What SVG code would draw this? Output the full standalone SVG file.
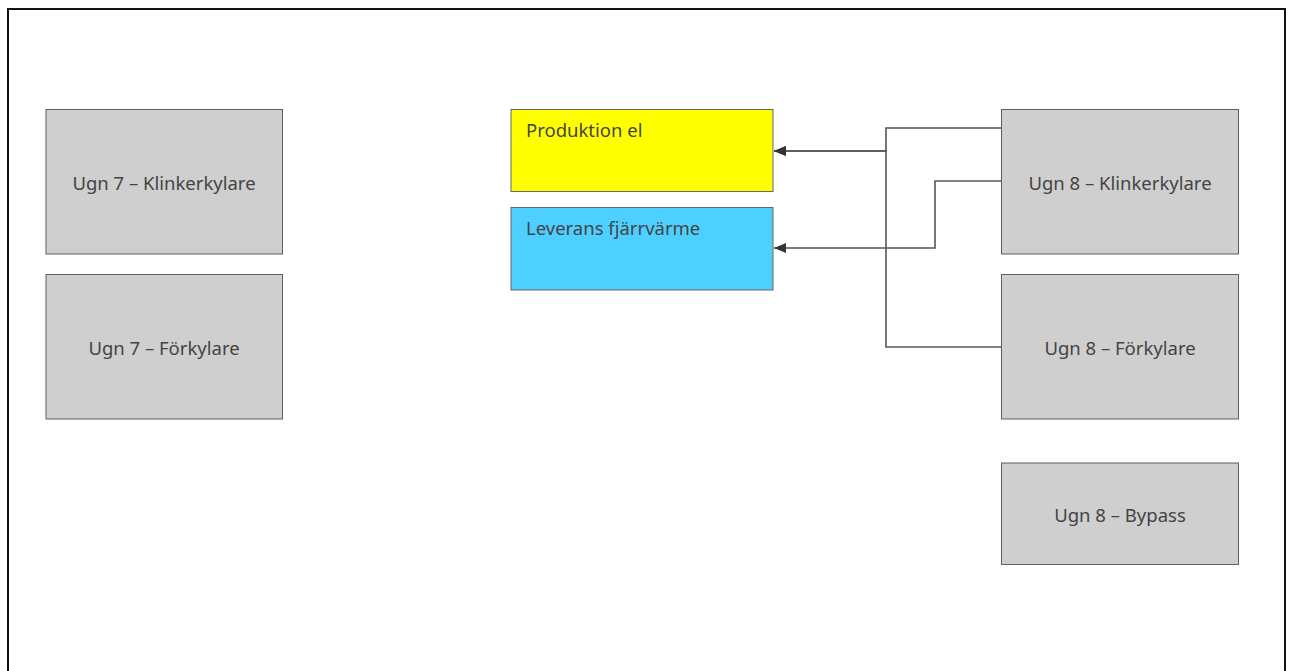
<svg xmlns="http://www.w3.org/2000/svg" width="1289" height="671" viewBox="0 0 1289 671">
<defs>
<style>
.box{fill:#cfcfcf;stroke:#5f5f5f;stroke-width:1}
.lbl{font-family:"Noto Sans","Open Sans",sans-serif;font-size:18.5px;fill:#444;font-variant-ligatures:none}
.ctr{text-anchor:middle}
.conn{fill:none;stroke:#555;stroke-width:1.6}
</style>
<marker id="arr" viewBox="0 0 12 10" refX="12" refY="5" markerWidth="12" markerHeight="10" markerUnits="userSpaceOnUse" orient="auto">
<path d="M0,0 L12,5 L0,10 Z" fill="#333"/>
</marker>
</defs>
<rect x="0" y="0" width="1289" height="671" fill="#fff"/>
<rect x="8" y="9" width="1277" height="680" fill="#fff" stroke="#111" stroke-width="2"/>
<g id="connectors">
<path class="conn" d="M1001,128 H886 V151 H774" marker-end="url(#arr)"/>
<path class="conn" d="M1001,347 H886 V151 H774" marker-end="url(#arr)"/>
<path class="conn" d="M1001,181 H935 V248 H774" marker-end="url(#arr)"/>
</g>
<g id="ugn7-klinker">
<rect class="box" x="46" y="109.5" width="236.5" height="144.5"/>
<text class="lbl ctr" x="164" y="189.5">Ugn 7 – Klinkerkylare</text>
</g>
<g id="ugn7-forkylare">
<rect class="box" x="46" y="274.5" width="236.5" height="144.5"/>
<text class="lbl ctr" x="164" y="354.5">Ugn 7 – Förkylare</text>
</g>
<g id="produktion-el">
<rect x="511" y="109.5" width="262" height="82" fill="#ffff00" stroke="#666" stroke-width="1"/>
<text class="lbl" x="526" y="136.5">Produktion el</text>
</g>
<g id="leverans">
<rect x="511" y="207.5" width="262" height="82.5" fill="#4dd0ff" stroke="#666" stroke-width="1"/>
<text class="lbl" x="526" y="234.5">Leverans fjärrvärme</text>
</g>
<g id="ugn8-klinker">
<rect class="box" x="1001.5" y="109.5" width="237" height="144.5"/>
<text class="lbl ctr" x="1120" y="189.5">Ugn 8 – Klinkerkylare</text>
</g>
<g id="ugn8-forkylare">
<rect class="box" x="1001.5" y="274.5" width="237" height="144.5"/>
<text class="lbl ctr" x="1120" y="354.5">Ugn 8 – Förkylare</text>
</g>
<g id="ugn8-bypass">
<rect class="box" x="1001.5" y="463" width="237" height="101.5"/>
<text class="lbl ctr" x="1120" y="521.5">Ugn 8 – Bypass</text>
</g>
</svg>
